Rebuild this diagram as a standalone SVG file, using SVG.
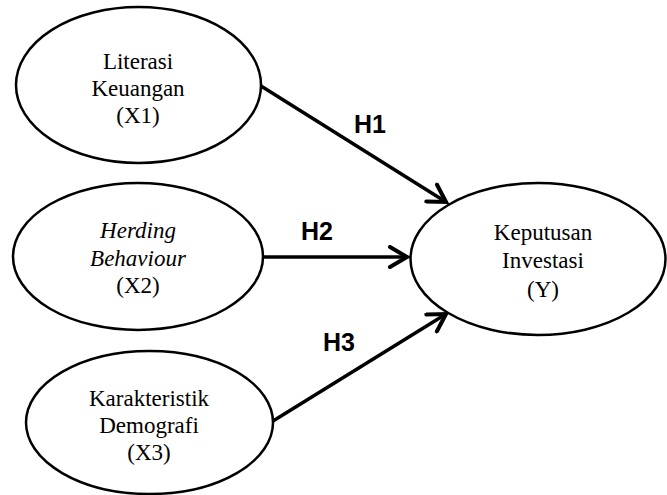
<svg xmlns="http://www.w3.org/2000/svg" width="667" height="495" viewBox="0 0 667 495">
<defs>
<style>
.node ellipse{fill:#fff;stroke:#000;stroke-width:2.5}
.node text{font-family:"Liberation Serif","Times New Roman",serif;font-size:23px;fill:#000;text-anchor:middle}
.it{font-style:italic}
.edge line{stroke:#000;stroke-width:3.5}
.lbl{font-family:"Liberation Sans",Arial,sans-serif;font-weight:bold;font-size:25px;fill:#000}
</style>
<marker id="arr" viewBox="-20 -12 24 24" refX="0" refY="0" markerWidth="24" markerHeight="24" markerUnits="userSpaceOnUse" orient="auto">
<path d="M-17,-10 L0,0 L-17,10" fill="none" stroke="#000" stroke-width="4" stroke-linejoin="miter" stroke-linecap="round"/>
</marker>
</defs>
<rect width="667" height="495" fill="#fff"/>
<g id="connectors" class="edge">
<line x1="261" y1="86" x2="446" y2="202" marker-end="url(#arr)"/>
<line x1="263" y1="257" x2="407" y2="257" marker-end="url(#arr)"/>
<line x1="273" y1="421" x2="446" y2="314" marker-end="url(#arr)"/>
<text class="lbl" x="354" y="133">H1</text>
<text class="lbl" x="301" y="240">H2</text>
<text class="lbl" x="323" y="351">H3</text>
</g>
<g id="x1" class="node">
<ellipse cx="138.5" cy="85" rx="122.5" ry="78"/>
<text x="138" y="69">Literasi</text>
<text x="138" y="96">Keuangan</text>
<text x="138" y="123">(X1)</text>
</g>
<g id="x2" class="node">
<ellipse cx="138" cy="256.5" rx="125" ry="73.5"/>
<text x="138" y="238" class="it">Herding</text>
<text x="138" y="265.5" class="it">Behaviour</text>
<text x="138" y="293">(X2)</text>
</g>
<g id="x3" class="node">
<ellipse cx="149.5" cy="422.5" rx="123.5" ry="71.5"/>
<text x="149" y="406">Karakteristik</text>
<text x="149" y="433">Demografi</text>
<text x="149" y="460">(X3)</text>
</g>
<g id="y" class="node">
<ellipse cx="538" cy="259" rx="127.5" ry="76"/>
<text x="543" y="240">Keputusan</text>
<text x="543" y="268">Investasi</text>
<text x="543" y="297">(Y)</text>
</g>
</svg>
